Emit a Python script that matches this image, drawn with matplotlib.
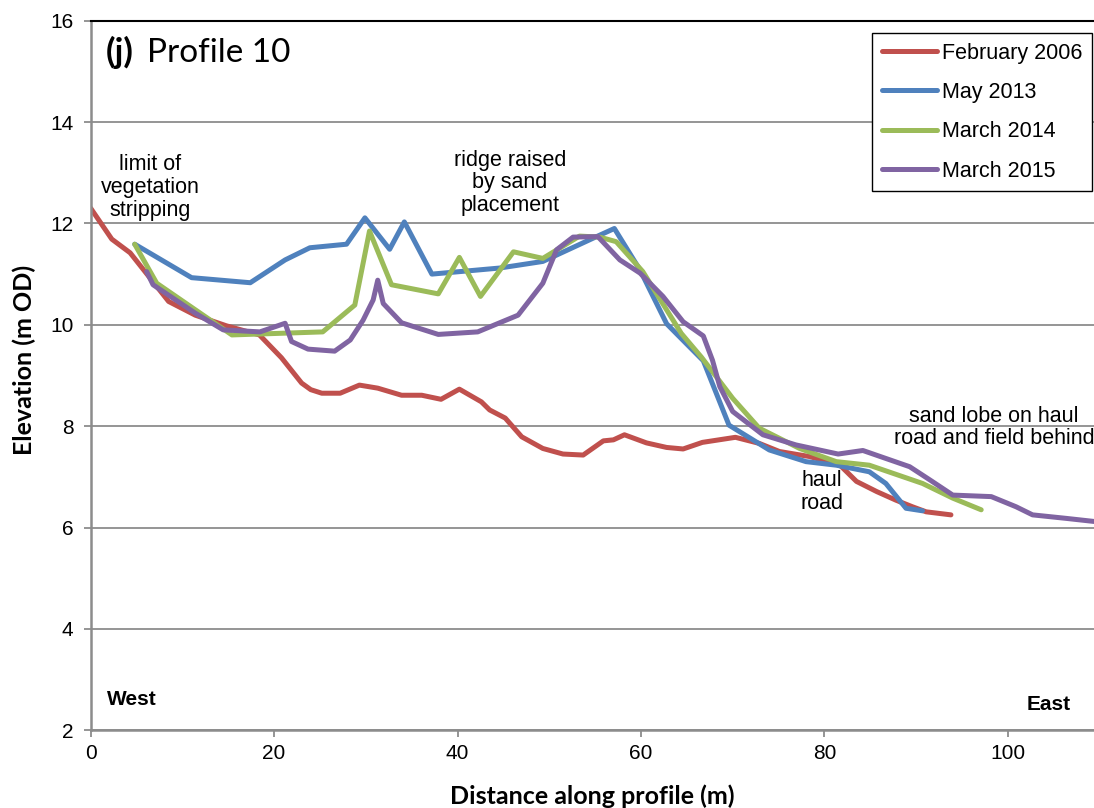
import matplotlib
matplotlib.use("Agg")
import matplotlib.pyplot as plt

# Feb 2006
feb06_x = [0, 2.3, 4.3, 8.5, 11.4, 14.8, 18.4, 20.8, 23.0, 24.0, 25.2, 27.2, 29.3, 31.3, 33.9, 36.1,
           38.2, 40.2, 42.6, 43.5, 45.2, 47.0, 49.3, 51.5, 53.7, 55.9, 57.0, 58.2, 60.6, 62.8,
           64.6, 66.7, 70.3, 72.9, 75.1, 78.4, 81.7, 83.5, 85.7, 87.8, 89.6, 91.1, 93.8]
feb06_y = [12.3, 11.69, 11.42, 10.46, 10.19, 9.98, 9.8, 9.35, 8.85, 8.72, 8.65, 8.65, 8.81, 8.75, 8.61, 8.61,
           8.53, 8.73, 8.48, 8.32, 8.16, 7.79, 7.56, 7.45, 7.43, 7.71, 7.73, 7.83, 7.67, 7.58,
           7.55, 7.68, 7.78, 7.66, 7.50, 7.40, 7.23, 6.91, 6.71, 6.54, 6.41, 6.31, 6.25]

# May 2013
may13_x = [4.8, 11.0, 17.4, 21.2, 23.9, 27.9, 29.9, 32.6, 34.2, 37.2, 44.6, 49.3, 54.8, 57.1,
           59.9, 62.8, 66.8, 69.6, 74.0, 78.0, 81.3, 84.9, 86.7, 88.9, 90.7]
may13_y = [11.59, 10.93, 10.83, 11.28, 11.52, 11.59, 12.11, 11.49, 12.03, 11.0, 11.12, 11.25, 11.71, 11.9,
           11.08, 10.02, 9.29, 8.02, 7.53, 7.30, 7.23, 7.10, 6.87, 6.38, 6.33]

# March 2014
mar14_x = [4.8, 7.2, 15.4, 25.3, 28.8, 30.4, 32.8, 37.9, 40.2, 42.5, 46.1, 49.3, 53.3, 55.5, 57.3,
           60.2, 64.4, 66.6, 70.0, 72.9, 77.3, 81.3, 84.9, 90.7, 94.0, 97.1]
mar14_y = [11.59, 10.82, 9.80, 9.86, 10.39, 11.85, 10.79, 10.61, 11.33, 10.56, 11.44, 11.31, 11.75, 11.73, 11.64,
           11.05, 9.83, 9.36, 8.55, 7.96, 7.56, 7.30, 7.23, 6.87, 6.58, 6.35]

# March 2015
mar15_x = [6.1, 6.8, 11.4, 14.45, 18.45, 21.2, 21.9, 23.7, 26.6, 28.3, 29.7, 30.8, 31.3, 31.9, 33.9,
           37.9, 42.2, 46.6, 49.3, 50.8, 52.6, 55.3, 57.7, 59.9, 62.4, 64.6, 66.8, 67.8, 68.6,
           70.0, 73.3, 76.9, 81.5, 84.2, 89.3, 91.5, 94.0, 98.2, 100.9, 102.7, 106.4, 109.4]
mar15_y = [11.05, 10.79, 10.23, 9.90, 9.86, 10.03, 9.67, 9.52, 9.48, 9.70, 10.09, 10.49, 10.88, 10.42, 10.04,
           9.81, 9.86, 10.19, 10.82, 11.48, 11.73, 11.74, 11.28, 11.02, 10.56, 10.06, 9.78, 9.30, 8.78,
           8.29, 7.83, 7.63, 7.45, 7.52, 7.20, 6.94, 6.64, 6.61, 6.41, 6.25, 6.18, 6.12]

series = [
    ("February 2006", feb06_x, feb06_y, "#C0504D"),
    ("May 2013", may13_x, may13_y, "#4F81BD"),
    ("March 2014", mar14_x, mar14_y, "#9BBB59"),
    ("March 2015", mar15_x, mar15_y, "#8064A2"),
]

plt.rcParams['font.family'] = ['Liberation Sans', 'DejaVu Sans']

fig = plt.figure(figsize=(10.94, 8.08), dpi=100)
ax = fig.add_axes([0.0829, 0.0962, 0.9171, 0.8782])

for label, xs, ys, col in series:
    ax.plot(xs, ys, color=col, lw=3.6, label=label, solid_capstyle='round', solid_joinstyle='round')

ax.set_xlim(0, 109.4)
ax.set_ylim(2, 16)
ax.set_xticks([0, 20, 40, 60, 80, 100])
ax.set_yticks([2, 4, 6, 8, 10, 12, 14, 16])
ax.grid(axis='y', color='#8c8c8c', lw=1.3)
ax.set_axisbelow(True)
ax.tick_params(labelsize=15, color='#8c8c8c', length=5, width=1.3, direction='out')
ax.tick_params(axis='y', pad=7.5)
ax.tick_params(axis='x', pad=5)

for s in ['left', 'bottom']:
    ax.spines[s].set_color('#8c8c8c')
    ax.spines[s].set_linewidth(1.8)
ax.spines['right'].set_visible(False)
ax.spines['top'].set_color('black')
ax.spines['top'].set_linewidth(1.5)

ax.set_xlabel("Distance along profile (m)", family='Lato', fontweight='bold', fontsize=18, labelpad=15)
ax.set_ylabel("Elevation (m OD)", family='Lato', fontweight='bold', fontsize=18)
ax.yaxis.set_label_coords(-0.054, 0.522)

fig.text(0.097, 0.935, "(j)", family='Lato', fontweight='bold', fontsize=25, va='center')
fig.text(0.1345, 0.935, "Profile 10", family='Lato', fontsize=24, va='center')

ann = dict(fontsize=15.5, ha='center', va='center', linespacing=1.1)
ax.text(6.5, 12.71, "limit of\nvegetation\nstripping", **ann)
ax.text(45.7, 12.8, "ridge raised\nby sand\nplacement", **ann)
ax.text(79.7, 6.7, "haul\nroad", **ann)
ax.text(98.5, 7.97, "sand lobe on haul\nroad and field behind", **ann)
ax.text(1.8, 2.6, "West", fontsize=15, fontweight='bold', va='center')
ax.text(106.9, 2.5, "East", fontsize=15, fontweight='bold', va='center', ha='right')

leg = ax.legend(loc='upper right', bbox_to_anchor=(1092 / 1094, 1 - 33 / 808),
                bbox_transform=fig.transFigure, borderaxespad=0, fancybox=False,
                edgecolor='black', fontsize=15.5, handlelength=2.55, handletextpad=0.23,
                labelspacing=0.85, borderpad=0.45, framealpha=1)
leg.get_frame().set_linewidth(1.0)

fig.savefig("out.png", dpi=100)
